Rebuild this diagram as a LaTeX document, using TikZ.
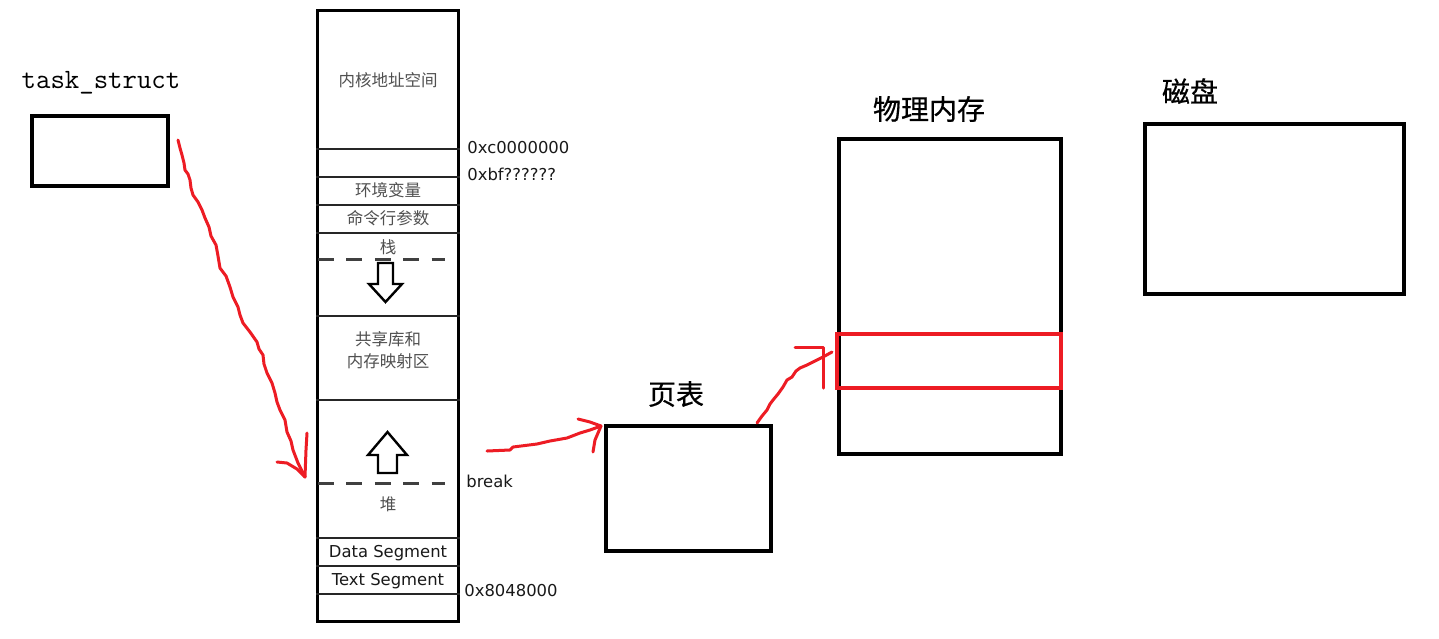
\documentclass[tikz,border=0pt]{standalone}
\usepackage{fontspec}
\newfontfamily\cjk{Noto Sans CJK SC}
\newfontfamily\dvs{DejaVu Sans}
\definecolor{pred}{HTML}{ED1C24}
\definecolor{segtext}{HTML}{505050}
\begin{document}
\begin{tikzpicture}[x=0.5pt,y=-0.5pt,
  box/.style={draw, line width=2pt, inner sep=0pt},
  memline/.style={draw=black!85, line width=1pt},
  seg/.style={font=\cjk\fontsize{8.25}{11}\selectfont, text=segtext, inner sep=0pt, align=center},
  lat/.style={font=\dvs\fontsize{8.2}{10}\selectfont, text=black!90, inner sep=0pt},
  title/.style={font=\cjk\fontsize{14}{16}\selectfont\addfontfeatures{FakeBold=0.6}, inner sep=0pt},
  hand/.style={draw=pred, line width=1.5pt, line join=round, line cap=round},
  dashdiv/.style={draw=black!75, line width=1.5pt, dash pattern=on 8pt off 6.2pt},
  hollow/.style={draw=black, line width=1.2pt, fill=white, line join=miter}]
\useasboundingbox[fill=white] (0,0) rectangle (1439,638);

% task_struct
\node[font=\ttfamily\fontsize{14}{16}\selectfont\addfontfeatures{FakeBold=1.2}, inner sep=0pt] (tasklbl) at (101,83) {task\_struct};
\node[box, minimum width=68pt, minimum height=35pt] (task) at (100,151) {};

% memory column
\node[draw, line width=1.5pt, minimum width=70.5pt, minimum height=305.5pt, inner sep=0pt] (mem) at (388,316) {};
\foreach \yy in {149,177,204.5,232.5,316,400,538,566,594}
  \draw[memline] (mem.west |- 0,\yy) -- (mem.east |- 0,\yy);

\node[seg] (kern) at (388,80) {内核地址空间};
\node[seg] (env) at (388,190) {环境变量};
\node[seg] (args) at (388,218) {命令行参数};
\node[seg] (stack) at (388,247) {栈};
\node[seg] (shlib) at (388,350) {共享库和\\内存映射区};
\node[seg] (heap) at (388,504) {堆};
\node[lat] (data) at (388,553.5) {Data Segment};
\node[lat] (text) at (388,581.5) {Text Segment};

\draw[dashdiv] (318,259) -- (445,259);
\draw[dashdiv] (318,483) -- (445,483);

% stack arrow (down)
\draw[hollow] (378,263) -- (393,263) -- (393,284) -- (402,284) -- (385.5,302) -- (369,284) -- (378,284) -- cycle;
% heap arrow (up)
\draw[hollow] (378,473) -- (397,473) -- (397,455) -- (407,455) -- (387.5,432) -- (368,455) -- (378,455) -- cycle;

% address labels
\node[lat, anchor=west] (a1) at (467,148) {0xc0000000};
\node[lat, anchor=west] (a2) at (467,174) {0xbf??????};
\node[lat, anchor=west] (brk) at (466,481) {break};
\node[lat, anchor=west] (a3) at (464,591) {0x8048000};

% page table
\node[title] (ptlbl) at (676,394) {页表};
\node[box, minimum width=82.5pt, minimum height=62.5pt] (pt) at (688.5,488.5) {};

% physical memory
\node[title] (pmlbl) at (929,109) {物理内存};
\node[box, minimum width=111pt, minimum height=157.5pt] (pm) at (950,296.5) {};
\node[draw=pred, line width=2.2pt, minimum width=112pt, minimum height=27pt, inner sep=0pt] (page) at (949,361) {};

% disk
\node[title] (disklbl) at (1190,91) {磁盘};
\node[box, minimum width=129.5pt, minimum height=85pt] (disk) at (1274.5,209) {};

% red hand-drawn arrows
\coordinate (r1s) at (178,140);
\coordinate (r1e) at (305,477);
\draw[hand] (r1s) -- (180,148) -- (182,155) -- (184,163) -- (185,170) -- (188,174) -- (190,180) -- (191,188) -- (193,195) -- (198,202) -- (202,210) -- (205,218) -- (209,227) -- (211,236) -- (216,245) -- (218,256) -- (220,268) -- (226,276) -- (230,287) -- (233,297) -- (238,307) -- (240,315) -- (243,323) -- (250,332) -- (257,342) -- (259,349) -- (263,355) -- (264,364) -- (267,373) -- (272,383) -- (275,393) -- (277,402) -- (280,410) -- (285,420) -- (287,432) -- (291,441) -- (293,450) -- (298,463) -- (r1e);
\draw[hand] (277,462) -- (287,463) -- (297,469) -- (r1e);
\draw[hand] (307,433) -- (306,450) -- (r1e);

\coordinate (r2s) at (487,451);
\coordinate (r2e) at (601,426);
\draw[hand] (r2s) -- (510,450) -- (513,447) -- (537,444) -- (550,441) -- (567,438) -- (580,433) -- (590,430) -- (r2e);
\draw[hand] (578,419) -- (590,422) -- (r2e);
\draw[hand] (593,452) -- (595,440) -- (r2e);

\coordinate (r3s) at (757,423);
\coordinate (r3e) at (832,352);
\draw[hand] (r3s) -- (762,416) -- (767,410) -- (770,404) -- (773,400) -- (778,394) -- (783,387) -- (787,380) -- (792,377) -- (796,371) -- (800,368) -- (807,365) -- (813,362) -- (823,357) -- (r3e);
\draw[hand] (795,347) -- (823,347) -- (823,388);
\end{tikzpicture}
\end{document}
